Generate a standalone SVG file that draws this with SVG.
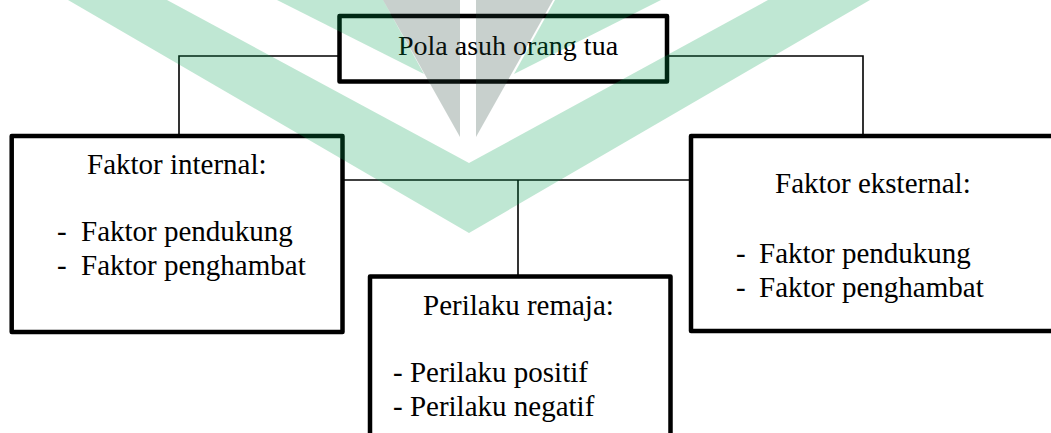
<svg xmlns="http://www.w3.org/2000/svg" width="1051" height="433" viewBox="0 0 1051 433">
  <style>
    .box { fill: #ffffff; stroke: #000000; stroke-width: 4.5; stroke-linejoin: round; }
    .box-open { fill: none; stroke: #000000; stroke-width: 4.5; stroke-linejoin: round; }
    .link { fill: none; stroke: #000000; stroke-width: 1.6; }
    text { font-family: 'Liberation Serif', 'Tinos', 'DejaVu Serif', serif; font-size: 29px; fill: #000000; }
    .title { font-size: 28px; }
    .wm-green { fill: #00a050; opacity: 0.25; }
    .wm-grey { fill: #244438; opacity: 0.25; }
  </style>

  <rect width="1051" height="433" fill="#ffffff"/>

  <!-- connectors -->
  <g id="connectors">
    <path class="link" d="M179 136 V56 H339.5"/>
    <path class="link" d="M667 56 H863 V136"/>
    <path class="link" d="M342.5 180 H691"/>
    <path class="link" d="M518 180 V276.5"/>
  </g>

  <g font-family="Liberation Serif, serif">
    <!-- top node -->
    <g id="pola-asuh">
      <rect class="box-open" x="339.5" y="16" width="327.5" height="65.5"/>
      <text class="title" x="398" y="55">Pola asuh orang tua</text>
    </g>

    <!-- left node -->
    <g id="faktor-internal">
      <rect class="box" x="11.7" y="136" width="330.8" height="196"/>
      <text x="87" y="174">Faktor internal:</text>
      <text y="241"><tspan x="57">-</tspan><tspan x="81">Faktor pendukung</tspan></text>
      <text y="275"><tspan x="57">-</tspan><tspan x="81">Faktor penghambat</tspan></text>
    </g>

    <!-- right node -->
    <g id="faktor-eksternal">
      <rect class="box" x="691" y="136" width="370" height="195"/>
      <text x="775" y="193">Faktor eksternal:</text>
      <text y="263"><tspan x="736">-</tspan><tspan x="759">Faktor pendukung</tspan></text>
      <text y="297"><tspan x="736">-</tspan><tspan x="759">Faktor penghambat</tspan></text>
    </g>

    <!-- bottom node -->
    <g id="perilaku-remaja">
      <rect class="box" x="370" y="276.5" width="300.5" height="200"/>
      <text x="423" y="315">Perilaku remaja:</text>
      <text x="393" y="382">- Perilaku positif</text>
      <text x="393" y="416">- Perilaku negatif</text>
    </g>
  </g>

  <!-- translucent logo mark laid over the page -->
  <g id="watermark">
    <polygon class="wm-green" points="68,0 167,0 469,163 768,0 870,0 469,233"/>
    <polygon class="wm-green" points="277,0 383,0 424,74"/>
    <polygon class="wm-green" points="661,0 555,0 514,74"/>
    <polygon class="wm-grey" points="383,0 460,0 460,137"/>
    <polygon class="wm-grey" points="476,0 553,0 476,137"/>
  </g>
</svg>
